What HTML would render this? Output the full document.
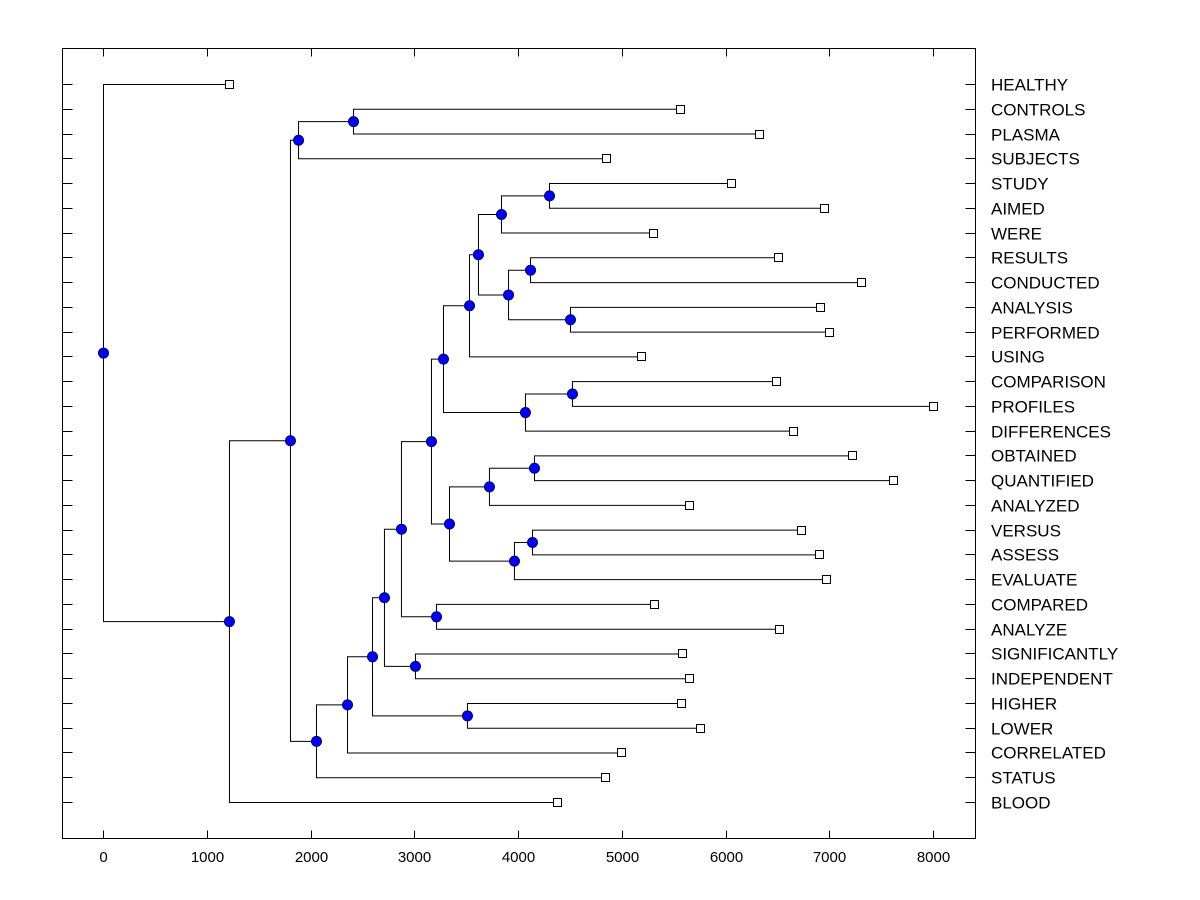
<!DOCTYPE html>
<html><head><meta charset="utf-8"><style>
html,body{margin:0;padding:0;background:#fff;}
svg{display:block;font-family:"Liberation Sans",Arial,sans-serif;}
</style></head><body>
<svg id="chart" width="1200" height="900" xmlns="http://www.w3.org/2000/svg"></svg>
<script>
const leafLabels=["HEALTHY","CONTROLS","PLASMA","SUBJECTS","STUDY","AIMED","WERE","RESULTS","CONDUCTED","ANALYSIS","PERFORMED","USING","COMPARISON","PROFILES","DIFFERENCES","OBTAINED","QUANTIFIED","ANALYZED","VERSUS","ASSESS","EVALUATE","COMPARED","ANALYZE","SIGNIFICANTLY","INDEPENDENT","HIGHER","LOWER","CORRELATED","STATUS","BLOOD"];
const leafValues=[1214,5561,6323,4848,6053,6949,5301,6506,7306,6911,6998,5186,6487,8000,6651,7219,7614,5648,6728,6901,6969,5311,6516,5581,5648,5571,5754,4993,4839,4376];
const mergeHeights=[2410,1880,4299,3836,4116,4501,3904,3614,3528,4520,4067,3277,4154,3720,4135,3961,3335,3161,3210,2872,3007,2708,3508,2593,2352,2053,1802,1214,0];
const xTicks=[0,1000,2000,3000,4000,5000,6000,7000,8000];
</script>
<script>
const svg=document.getElementById('chart');
const NS='http://www.w3.org/2000/svg';
const L=62.5,R=975.5,T=48.5,B=838.5;
const X=v=>103+v*0.10375;
const Y=i=>84+i*(802-84)/29;
function mk(t,a,p){const e=document.createElementNS(NS,t);for(const k in a)e.setAttribute(k,a[k]);(p||svg).appendChild(e);return e;}
const tree=[[1,2],[30,3],[4,5],[32,6],[7,8],[9,10],[34,35],[33,36],[37,11],[12,13],[39,14],[38,40],[15,16],[42,17],[18,19],[44,20],[43,45],[41,46],[21,22],[47,48],[23,24],[49,50],[25,26],[51,52],[53,27],[54,28],[31,55],[56,29],[0,57]];
const nx=[],ny=[];
leafValues.forEach((v,i)=>{nx[i]=X(v);ny[i]=Y(i);});
const gl=mk('g',{});


tree.forEach((m,k)=>{const id=30+k;const x=X(mergeHeights[k]);const a=m[0],b=m[1];
 ny[id]=(ny[a]+ny[b])/2;nx[id]=x;
 const p=mk('path',{d:`M${nx[a]},${ny[a]+0.5}H${x+0.5}V${ny[b]+0.5}H${nx[b]}`,fill:'none',stroke:'#000','stroke-width':1},gl);
 
 
});
const fr=mk('rect',{x:L,y:T,width:R-L,height:B-T,fill:'none',stroke:'#000','stroke-width':1});


xTicks.forEach(v=>{const x=Math.round(X(v))+0.5;
 mk('line',{x1:x,x2:x,y1:T,y2:T+8,stroke:'#000'});
 mk('line',{x1:x,x2:x,y1:B,y2:B-8,stroke:'#000'});
 const t=mk('text',{x:x,y:862,'text-anchor':'middle','font-size':15,fill:'#000'});
 t.textContent=v;
 
 
});
leafLabels.forEach((s,i)=>{const y=Math.round(Y(i))+0.5;
 mk('line',{x1:L,x2:L+10,y1:y,y2:y,stroke:'#000'});
 mk('line',{x1:R,x2:R-10,y1:y,y2:y,stroke:'#000'});
 const t=mk('text',{x:991,y:y+6,'font-size':17,fill:'#000'});
 t.textContent=s;
 
 
});
leafValues.forEach((v,i)=>{const r=mk('rect',{x:Math.round(nx[i])-3.5,y:Math.round(ny[i])-3.5,width:8,height:8,fill:'#fff',stroke:'#000'});
 
 
});
tree.forEach((m,k)=>{const id=30+k;const c=mk('circle',{cx:nx[id]+0.5,cy:ny[id]+0.5,r:5,fill:'#0000ff',stroke:'#00006a','stroke-width':1});
 
 
});
</script>
</body></html>
